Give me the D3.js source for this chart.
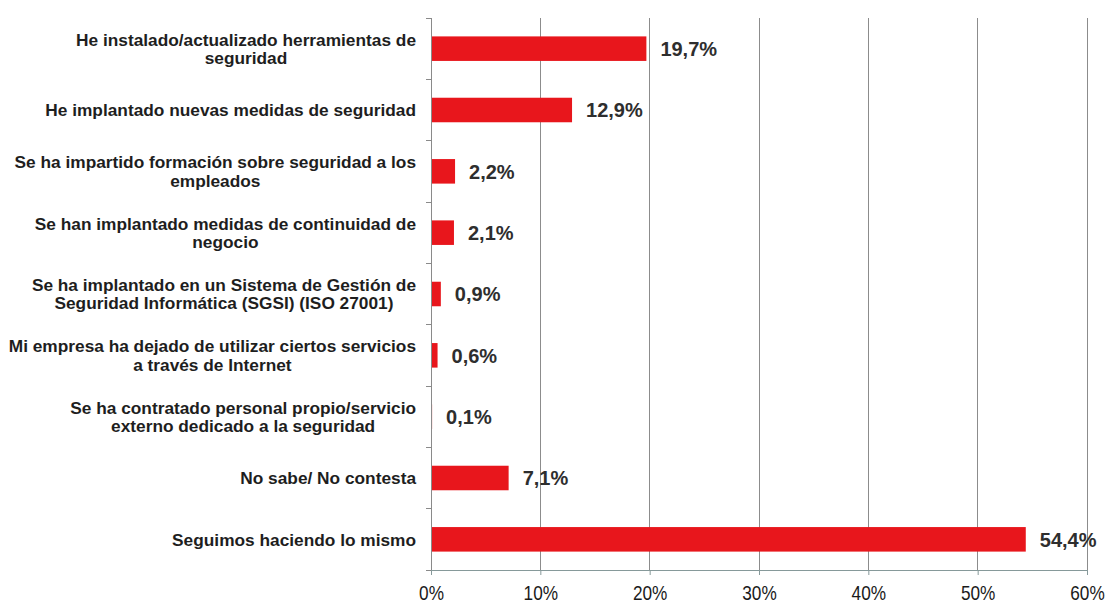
<!DOCTYPE html>
<html>
<head>
<meta charset="utf-8">
<script src="https://cdn.jsdelivr.net/npm/d3@7/dist/d3.min.js"></script>
<style>
  html, body { margin: 0; padding: 0; background: #fff; }
  svg { display: block; }
  .cat { font-family: "Liberation Sans", Arial, sans-serif; font-weight: bold; font-size: 17.3px; fill: #1e1e1e; }
  .val { font-family: "Liberation Sans", Arial, sans-serif; font-weight: bold; font-size: 20px; fill: #2e2e2e; }
  .xt text { font-family: "Liberation Sans", Arial, sans-serif; font-size: 21px; fill: #1a1a1a; }
</style>
</head>
<body>
<svg id="chart" width="1110" height="605"></svg>
<script>
// Survey answers (one entry per bar, "\n" marks a line break in the label)
const categories = [
  "He instalado/actualizado herramientas de\nseguridad",
  "He implantado nuevas medidas de seguridad",
  "Se ha impartido formación sobre seguridad a los\nempleados",
  "Se han implantado medidas de continuidad de\nnegocio",
  "Se ha implantado en un Sistema de Gestión de\nSeguridad Informática (SGSI) (ISO 27001)",
  "Mi empresa ha dejado de utilizar ciertos servicios\na través de Internet",
  "Se ha contratado personal propio/servicio\nexterno dedicado a la seguridad",
  "No sabe/ No contesta",
  "Seguimos haciendo lo mismo"
];
const values = [19.7, 12.9, 2.2, 2.1, 0.9, 0.6, 0.1, 7.1, 54.4];
const xTicks = [0, 10, 20, 30, 40, 50, 60];

const svg = d3.select("#chart");
const plotLeft = 431, plotRight = 1087, plotTop = 18, plotBottom = 570;

const x = d3.scaleLinear().domain([0, 60]).range([plotLeft, plotRight]);
const y = d3.scaleBand().domain(categories).range([plotTop, plotBottom])
  .paddingInner(0.6).paddingOuter(0.3);

const fmt = v => d3.format(".1f")(v).replace(".", ",") + "%";

// vertical gridlines
svg.append("g").selectAll("line")
  .data(xTicks.filter(d => d > 0))
  .join("line")
  .attr("x1", d => x(d)).attr("x2", d => x(d))
  .attr("y1", plotTop).attr("y2", plotBottom)
  .attr("stroke", "#8c8c8c").attr("stroke-width", 1).attr("shape-rendering", "crispEdges");

// bars
svg.append("g").selectAll("rect")
  .data(values)
  .join("rect")
  .attr("x", x(0))
  .attr("y", (d, i) => y(categories[i]))
  .attr("width", d => x(d) - x(0))
  .attr("height", y.bandwidth())
  .attr("fill", "#e8161c");

// value labels
svg.append("g").selectAll("text")
  .data(values)
  .join("text")
  .attr("class", "val")
  .attr("x", d => x(d) + 14)
  .attr("y", (d, i) => y(categories[i]) + y.bandwidth() / 2)
  .attr("dy", "0.36em")
  .text(fmt);

// category axis with ticks at band boundaries
const yAxis = svg.append("g");
yAxis.append("line")
  .attr("x1", plotLeft).attr("x2", plotLeft).attr("y1", plotTop).attr("y2", plotBottom)
  .attr("stroke", "#8a8a8a").attr("shape-rendering", "crispEdges");
const step = y.step();
yAxis.selectAll("line.tk")
  .data(d3.range(categories.length + 1))
  .join("line").attr("class", "tk")
  .attr("x1", plotLeft - 5).attr("x2", plotLeft)
  .attr("y1", i => plotTop + i * step).attr("y2", i => plotTop + i * step)
  .attr("stroke", "#8a8a8a").attr("shape-rendering", "crispEdges");

// category labels, lines centred, block right-aligned against the axis
const labelRight = 416, lineH = 18.5;
const lab = svg.append("g").selectAll("text")
  .data(categories)
  .join("text")
  .attr("class", "cat")
  .attr("text-anchor", "middle");
lab.each(function (c) {
  const t = d3.select(this);
  const lines = c.split("\n");
  const cy = y(c) + y.bandwidth() / 2;
  lines.forEach((ln, k) => {
    t.append("tspan").text(ln)
      .attr("y", cy + (k - (lines.length - 1) / 2) * lineH)
      .attr("dy", "0.36em");
  });
  let w = 0;
  t.selectAll("tspan").each(function () { w = Math.max(w, this.getComputedTextLength()); });
  t.selectAll("tspan").attr("x", labelRight - w / 2);
});

// value axis (horizontally condensed tick labels)
const xAxis = svg.append("g")
  .attr("class", "xt")
  .attr("transform", `translate(0,${plotBottom})`)
  .call(d3.axisBottom(x).tickValues(xTicks).tickFormat(d => d + "%").tickSize(5).tickSizeOuter(0));
xAxis.select(".domain").attr("stroke", "#86999a");
xAxis.selectAll(".tick line").attr("stroke", "#86999a");
xAxis.selectAll(".tick text")
  .attr("x", 0).attr("y", 30).attr("dy", 0)
  .attr("transform", "scale(0.82,1)");
</script>
</body>
</html>
